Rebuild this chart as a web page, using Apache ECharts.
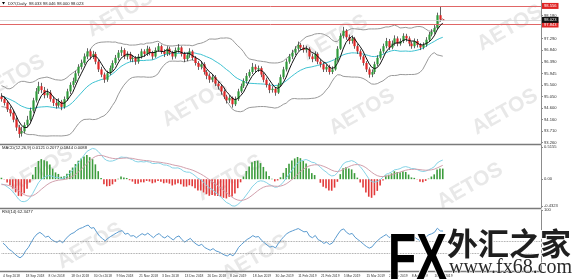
<!DOCTYPE html>
<html><head><meta charset="utf-8">
<script src="https://cdn.jsdelivr.net/npm/echarts@6/dist/echarts.min.js"></script>
<style>html,body{margin:0;padding:0;background:#fff}#c{width:580px;height:279px}</style>
</head><body><div id="c"></div>
<script>
// ---- data ----
const dateLabels = ['4 Sep 2018','18 Sep 2018','8 Oct 2018','18 Oct 2018','30 Oct 2018','9 Nov 2018','21 Nov 2018','3 Dec 2018','13 Dec 2018','26 Dec 2018','8 Jan 2019','18 Jan 2019','30 Jan 2019','11 Feb 2019','21 Feb 2019','5 Mar 2019','15 Mar 2019','27 Mar 2019','8 Apr 2019','18 Apr 2019'];
const opens = [95.05,94.95,94.82,94.55,94.42,94.15,93.86,93.62,93.70,93.95,94.15,94.50,94.90,95.25,95.45,95.30,95.10,95.20,94.95,94.80,
94.70,94.85,94.65,94.95,95.25,95.50,95.65,95.95,96.20,96.35,96.60,96.80,96.60,96.70,96.40,96.10,95.90,95.70,95.95,96.15,
96.35,96.55,96.75,96.85,96.60,96.70,96.50,96.55,96.40,96.60,96.80,96.70,96.90,96.75,96.60,96.85,97.00,96.80,96.70,96.90,
96.75,96.60,96.85,96.95,96.70,96.50,96.65,96.80,96.55,96.35,96.20,96.30,96.00,95.85,95.70,95.80,95.55,95.45,95.25,95.05,
94.90,95.00,94.75,94.95,95.25,95.45,95.65,95.85,96.00,96.20,96.10,96.15,95.90,95.70,95.50,95.30,95.35,95.20,95.50,95.80,
96.10,96.40,96.60,96.75,96.90,97.05,96.95,96.85,96.90,96.60,96.50,96.70,96.40,96.30,96.10,96.20,96.00,96.10,96.45,96.90,
97.40,97.60,97.35,97.20,97.30,97.00,96.80,96.60,96.35,96.10,95.90,96.00,96.30,96.55,96.80,97.00,97.20,96.95,97.10,97.30,
97.10,97.20,97.40,97.30,97.10,97.00,97.20,97.05,96.95,97.05,97.25,97.45,97.55,97.70,98.20,98.033];
const closes = [94.95,94.80,94.55,94.40,94.15,93.85,93.60,93.70,93.95,94.15,94.50,94.90,95.25,95.45,95.30,95.10,95.20,94.95,94.80,94.70,
94.85,94.65,94.95,95.25,95.50,95.65,95.95,96.20,96.35,96.60,96.80,96.60,96.70,96.40,96.10,95.90,95.70,95.95,96.15,96.35,
96.55,96.75,96.85,96.60,96.70,96.50,96.55,96.40,96.60,96.80,96.70,96.90,96.75,96.60,96.85,97.00,96.80,96.70,96.90,96.75,
96.60,96.85,96.95,96.70,96.50,96.65,96.80,96.55,96.35,96.20,96.30,96.00,95.85,95.70,95.80,95.55,95.45,95.25,95.05,94.90,
95.00,94.75,94.95,95.25,95.45,95.65,95.85,96.00,96.20,96.10,96.15,95.90,95.70,95.50,95.30,95.35,95.20,95.50,95.80,96.10,
96.40,96.60,96.75,96.90,97.05,96.95,96.85,96.90,96.60,96.50,96.70,96.40,96.30,96.10,96.20,96.00,96.10,96.45,96.90,97.40,
97.60,97.35,97.20,97.30,97.00,96.80,96.60,96.35,96.10,95.90,96.00,96.30,96.55,96.80,97.00,97.20,96.95,97.10,97.30,97.10,
97.20,97.40,97.30,97.10,97.00,97.20,97.05,96.95,97.05,97.25,97.45,97.55,97.70,98.20,98.03,98.023];
const lows = [94.85,94.70,94.45,94.28,94.05,93.72,93.45,93.50,93.62,93.85,94.08,94.42,94.82,95.15,95.18,94.98,95.00,94.85,94.68,94.58,
94.62,94.52,94.58,94.88,95.15,95.40,95.58,95.85,96.10,96.28,96.50,96.48,96.50,96.30,96.00,95.80,95.58,95.62,95.88,96.05,
96.28,96.45,96.62,96.50,96.48,96.40,96.38,96.28,96.32,96.52,96.58,96.62,96.65,96.48,96.55,96.78,96.70,96.58,96.62,96.65,
96.48,96.52,96.75,96.60,96.38,96.42,96.55,96.45,96.25,96.08,96.10,95.90,95.72,95.58,95.60,95.45,95.32,95.12,94.95,94.78,
94.80,94.62,94.68,94.88,95.18,95.38,95.55,95.78,95.92,96.00,96.00,95.80,95.60,95.40,95.18,95.20,95.08,95.15,95.42,95.72,
96.02,96.32,96.50,96.66,96.82,96.85,96.75,96.75,96.50,96.38,96.42,96.30,96.18,96.00,96.00,95.90,95.92,96.05,96.40,96.85,
97.30,97.25,97.08,97.10,96.90,96.70,96.48,96.25,96.00,95.78,95.80,95.92,96.22,96.48,96.72,96.92,96.85,96.88,97.02,97.00,
97.02,97.12,97.18,97.00,96.90,96.92,96.95,96.85,96.88,96.98,97.18,97.38,97.48,97.65,97.95,98.000];
const highs = [95.18,95.05,94.90,94.66,94.50,94.25,93.95,93.88,94.05,94.30,94.62,95.00,95.38,95.62,95.58,95.42,95.35,95.30,95.05,94.95,
94.98,94.92,95.05,95.35,95.60,95.78,96.05,96.30,96.48,96.72,96.92,96.88,96.82,96.78,96.48,96.20,95.98,96.05,96.25,96.45,
96.66,96.85,96.98,96.92,96.80,96.78,96.66,96.62,96.70,96.90,96.88,97.02,96.98,96.82,96.95,97.12,97.06,96.88,97.00,96.98,
96.82,96.95,97.08,97.00,96.78,96.75,96.92,96.86,96.62,96.42,96.42,96.38,96.08,95.95,95.92,95.88,95.62,95.52,95.32,95.12,
95.10,95.05,95.05,95.35,95.55,95.75,95.96,96.10,96.35,96.30,96.25,96.22,95.98,95.78,95.58,95.45,95.42,95.58,95.90,96.20,
96.50,96.70,96.86,97.00,97.18,97.12,97.05,97.02,96.96,96.70,96.80,96.76,96.50,96.38,96.30,96.28,96.22,96.55,97.00,97.50,
97.75,97.66,97.45,97.42,97.36,97.08,96.88,96.66,96.42,96.18,96.10,96.40,96.65,96.90,97.10,97.32,97.28,97.22,97.42,97.38,
97.30,97.50,97.48,97.38,97.18,97.30,97.28,97.12,97.15,97.35,97.55,97.66,97.82,98.30,98.52,98.046];
// estimated closes just before the visible window, only used to seed the indicators
const priorCloses = [95.20,95.35,95.50,95.62,95.55,95.70,95.85,95.95,95.80,95.65,95.50,95.40,95.55,95.35,95.20,95.05,95.15,95.00,94.85,94.95,
94.80,94.70,94.85,95.00,95.10,94.95,95.05,95.20,95.15,95.05];
const priceTicks = [93.260,93.710,94.160,94.600,95.050,95.500,95.945,96.390,96.840,97.290,98.180];
const macdTicks = [0.5155,0,-0.4323];
const rsiTicks = [100];
const resistance = 98.556, support = 97.843, lastPrice = 98.023;
const rsiLevels = [50, 30];
const slotCount = 190; // bar slots incl. right-side chart shift

// ---- indicators derived from the candles ----
const all = priorCloses.concat(closes), P = priorCloses.length;
function sma(a,n,i){let s=0;for(let k=i-n+1;k<=i;k++)s+=a[k];return s/n;}
const ma5=[],mid=[],up=[],dn=[];
for(let i=P;i<all.length;i++){
  ma5.push(sma(all,5,i));const m=sma(all,20,i);let v=0;for(let k=i-19;k<=i;k++)v+=(all[k]-m)*(all[k]-m);
  const sd=Math.sqrt(v/20);mid.push(m);up.push(m+2*sd);dn.push(m-2*sd);
}
function ema(a,n){const al=2/(n+1);const o=[a[0]];for(let i=1;i<a.length;i++)o.push(al*a[i]+(1-al)*o[i-1]);return o;}
const e12=ema(all,12),e26=ema(all,26);const difAll=all.map((_,i)=>e12[i]-e26[i]);const deaAll=ema(difAll,9);
const dif=difAll.slice(P),dea=deaAll.slice(P);
const hist=dif.map((d,i)=>{const h=2*(d-dea[i]);return {value:h,itemStyle:{color:h>=0?'#3c9c3c':'#e23a3a'}};});
let ag=0,al=0;for(let i=1;i<=14;i++){const d=all[i]-all[i-1];if(d>0)ag+=d;else al-=d;}ag/=14;al/=14;
const rsiAll=[];for(let i=15;i<all.length;i++){const d=all[i]-all[i-1];ag=(ag*13+Math.max(d,0))/14;al=(al*13+Math.max(-d,0))/14;rsiAll[i]=100-100/(1+ag/al);}
const rsi=rsiAll.slice(P);

const cats=[];for(let i=0;i<slotCount;i++)cats.push(i);
const FONT='Liberation Sans';
const lblBase={fontSize:4.1,color:'#333',fontFamily:FONT};
function xa(g,showLabel){return {type:'category',gridIndex:g,data:cats,boundaryGap:true,axisLine:{show:false},axisTick:{show:false},
  axisLabel:showLabel?{show:true,interval:7,align:'left',margin:3,fontSize:3.3,color:'#333',fontFamily:FONT,hideOverlap:false,
    formatter:(v,i)=>(i%8===0&&i/8<dateLabels.length)?dateLabels[i/8]:''}:{show:false},splitLine:{show:false}};}
function ya(g,min,max,ticks,fmt){return {type:'value',gridIndex:g,position:'right',min:min,max:max,scale:true,
  axisLine:{show:true,lineStyle:{color:'#8c8c8c',width:1}},
  axisTick:{show:true,customValues:ticks,length:2,lineStyle:{color:'#8c8c8c'}},
  axisLabel:Object.assign({customValues:ticks,margin:3,formatter:fmt},lblBase),splitLine:{show:false}};}

// watermarks
const wm=[[120,14],[335,38],[510,28],[12,78],[195,104],[362,112],[505,112],[40,170],[230,178],[470,186],[90,246],[255,258]];
const graphics=[];
wm.forEach(p=>graphics.push({type:'text',x:p[0],y:p[1],rotation:Math.PI/6,z:-10,silent:true,
  style:{text:'AETOS',font:'bold 21px "Liberation Sans"',fill:'rgba(200,200,200,0.42)',textAlign:'center',textVerticalAlign:'middle'}}));
[144.5,208.5,271.5].forEach(y=>graphics.push({type:'line',z:5,shape:{x1:0,y1:y,x2:541,y2:y},style:{stroke:'#7a7a7a',lineWidth:1.5}}));
graphics.push({type:'polygon',z:6,shape:{points:[[2,2],[5,2],[3.5,4.5]]},style:{fill:'#000'}});
graphics.push({type:'text',x:8,y:3.5,z:6,style:{text:'DXY,Daily  98.033 98.046 98.000 98.023',font:'4.2px "Liberation Sans"',fill:'#222',textVerticalAlign:'middle'}});
graphics.push({type:'text',x:2,y:148,z:6,style:{text:'MACD(12,26,9) 0.0121 0.2077 0.1844 0.0088',font:'4.2px "Liberation Sans"',fill:'#222',textVerticalAlign:'middle'}});
graphics.push({type:'text',x:2,y:212,z:6,style:{text:'RSI(14) 62.3477',font:'4.2px "Liberation Sans"',fill:'#222',textVerticalAlign:'middle'}});
graphics.push({type:'text',x:388,y:229,z:100,scaleX:0.72,style:{text:'FX',font:'bold 64px "Liberation Sans"',
  fill:new echarts.graphic.LinearGradient(0,0,0,1,[{offset:0,color:'#a9d6f7'},{offset:0.5,color:'#4d93e0'},{offset:1,color:'#1f5fc4'}]),
  stroke:'#ffffff',lineWidth:2,textVerticalAlign:'top'}});
graphics.push({type:'text',x:447,y:228,z:100,style:{text:'外汇之家',font:'bold 31px "Noto Sans CJK SC"',fill:'#1e1e1e',stroke:'#ffffff',lineWidth:2,textVerticalAlign:'top'}});
graphics.push({type:'text',x:449,y:258,z:100,style:{text:'www.fx68.com',font:'20px "Liberation Serif"',fill:'#2a2a2a',stroke:'#ffffff',lineWidth:1,textVerticalAlign:'top'}});

// candles: dark wick + coloured body, positioned through the axis scales
function renderCandle(params, api){
  const i=api.value(0),o=api.value(1),c=api.value(2),l=api.value(3),h=api.value(4);
  const pO=api.coord([i,o]),pC=api.coord([i,c]),pL=api.coord([i,l]),pH=api.coord([i,h]);
  const x=Math.round(pO[0])+0.5;const top=Math.min(pO[1],pC[1]);const hgt=Math.max(1,Math.abs(pO[1]-pC[1]));
  const col=c>=o?'#2f9a3a':'#e02525';
  return {type:'group',children:[
    {type:'line',shape:{x1:x,y1:pH[1],x2:x,y2:pL[1]},style:{stroke:'#3a3a3a',lineWidth:0.8}},
    {type:'rect',shape:{x:x-1.1,y:top,width:2.2,height:hgt},style:{fill:col}}
  ]};
}

const chart=echarts.init(document.getElementById('c'),null,{renderer:'canvas'});
chart.setOption({
  animation:false,backgroundColor:'#ffffff',
  grid:[{left:0,right:39,top:0,height:144},{left:0,right:39,top:145,height:63},{left:0,right:39,top:210,height:62}],
  xAxis:[xa(0,false),xa(1,false),xa(2,true)],
  yAxis:[ya(0,93.21,98.79,priceTicks,v=>v.toFixed(3)),
         ya(1,-0.46,0.545,macdTicks,v=>v===0?'0.00':v.toFixed(4)),
         ya(2,0,100,rsiTicks,v=>String(v))],
  graphic:graphics,
  series:[
    {type:'line',xAxisIndex:0,yAxisIndex:0,data:up,symbol:'none',lineStyle:{color:'#9a9a9a',width:1},z:2},
    {type:'line',xAxisIndex:0,yAxisIndex:0,data:dn,symbol:'none',lineStyle:{color:'#9a9a9a',width:1},z:2},
    {type:'line',xAxisIndex:0,yAxisIndex:0,data:mid,symbol:'none',lineStyle:{color:'#3fc3d2',width:1},z:3},
    {type:'custom',xAxisIndex:0,yAxisIndex:0,z:4,renderItem:renderCandle,encode:{x:0,y:[1,2,3,4]},
      data:opens.map((o,i)=>[i,o,closes[i],lows[i],highs[i]])},
    {type:'line',xAxisIndex:0,yAxisIndex:0,data:ma5,symbol:'none',lineStyle:{color:'#111',width:1},z:5,
      markLine:{silent:true,symbol:'none',animation:false,
        data:[
          {yAxis:resistance,lineStyle:{color:'#e06666',width:1,type:'solid'},label:{show:true,position:'end',formatter:resistance.toFixed(3),backgroundColor:'#e02525',color:'#fff',fontSize:4.1,padding:[1,2],distance:1}},
          {yAxis:support,lineStyle:{color:'#e06666',width:1,type:'solid'},label:{show:true,position:'end',formatter:support.toFixed(3),backgroundColor:'#e02525',color:'#fff',fontSize:4.1,padding:[1,2],distance:1}},
          {yAxis:lastPrice,lineStyle:{color:'#d0d0d0',width:0.8,type:'solid'},label:{show:true,position:'end',formatter:lastPrice.toFixed(3),backgroundColor:'#111',color:'#fff',fontSize:4.1,padding:[1,2],distance:1}}
        ]}},
    {type:'bar',xAxisIndex:1,yAxisIndex:1,data:hist,barWidth:1.6,z:2},
    {type:'line',xAxisIndex:1,yAxisIndex:1,data:dif,symbol:'none',lineStyle:{color:'#86d3e6',width:1},z:3},
    {type:'line',xAxisIndex:1,yAxisIndex:1,data:dea,symbol:'none',lineStyle:{color:'#d2a0ad',width:1},z:3},
    {type:'line',xAxisIndex:2,yAxisIndex:2,data:rsi,symbol:'none',lineStyle:{color:'#5a9bd0',width:1},z:3,
      markLine:{silent:true,symbol:'none',label:{show:false},data:rsiLevels.map(v=>({yAxis:v})),lineStyle:{color:'#888',width:0.8,type:'dotted'}}}
  ]
});
</script></body></html>
